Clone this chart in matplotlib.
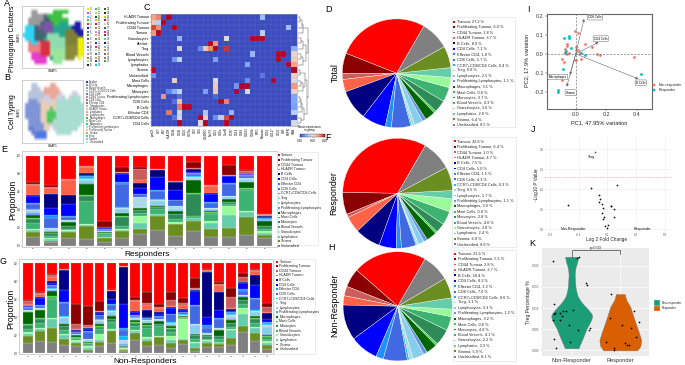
#!/usr/bin/env python3

import numpy as np
import matplotlib
matplotlib.use("Agg")
import matplotlib.pyplot as plt
from matplotlib.patches import Rectangle
from matplotlib.colors import to_rgba

plt.rcParams["font.family"] = ["Liberation Sans", "DejaVu Sans"]

W, H = 685, 365

# ---- Shared categories ----
CELL_TYPES = ["Tumour", "Proliferating Tumour", "CD44 Tumour", "HLADR Tumour", "B Cells", "CD4 Cells",
              "Effector CD4", "CD8 Cells", "CCR7+CD8/CD4 Cells", "Treg", "Lymphocytes",
              "Proliferating Lymphocytes", "Macrophages", "Mast Cells", "Monocytes", "Blood Vessels",
              "Granulocytes", "Lymphatics", "Stroma", "Unclassified"]
CELL_COLORS = ["#ff0000", "#8b0000", "#cd5c5c", "#ff6347", "#000080", "#0000ff", "#1e90ff", "#4169e1",
               "#00bfff", "#add8e6", "#87ceeb", "#6495ed", "#006400", "#32cd32", "#2e8b57", "#3cb371",
               "#98fb98", "#66cdaa", "#6b8e23", "#808080"]

# ---- Pie values (%) ----
total_pct = [27.2, 6.0, 1.8, 3.7, 8.9, 7.1, 1.8, 5.7, 0.4, 0.8, 2.5, 1.1, 3.1, 0.6, 3.7, 4.3, 3.0, 2.9, 6.4, 8.5]
responder_pct = [32.8, 6.4, 1.0, 4.7, 7.5, 5.0, 1.5, 4.3, 0.3, 0.5, 1.7, 1.1, 3.0, 0.6, 2.8, 4.0, 3.8, 2.4, 6.9, 8.8]
non_responder_pct = [21.6, 5.5, 2.8, 2.7, 10.4, 8.3, 2.2, 7.0, 0.6, 1.1, 3.3, 1.2, 3.2, 0.6, 4.8, 4.1, 2.2, 3.3, 5.9, 8.1]

# ---- Stacked bars, each row is one patient in CELL_TYPES order ----
responder_bars = [
    [30, 2, 1, 12, 1, 8, 1, 6, .5, 1, 3, 1.5, 4, 1, 5, 6, 2, 2, 5.5, 10],
    [32, 2, 1, 7, 15, 8, 3, 11, 1, 2, 1, .5, 1, 1, 3, 2, 1, 2, 1, 4.5],
    [26, .5, .5, 17, 10, 13, 1.5, 3, .5, 1, 1, .5, 3.5, .5, 3, 2, 1, 1, 6, 9],
    [11.5, .3, .5, 7, 1.5, 2, 1, 1, .5, 1, 4, 1, 12, 1, 5, 26, 1, 1, 14, 7.5],
    [72.5, 7, .2, .3, 1, 1, .5, 1, .3, .3, 1, .5, 1, .3, 1, 2.5, .5, 1, 4, 4.5],
    [11.5, 5.5, .5, .5, 1, 8.5, 2, 25, .5, 1.5, 4, .5, 3, 1, 9, 3, 1, 1.5, 7.5, 8],
    [12, 3, 11, 4, 5, 6.5, .5, 3, .5, 10, 1, .5, 2, .5, 3, 3, 8, 6, 6, 12.5],
    [14, .5, .5, 1, 7.5, 14, 1, 9, .5, 1, 5, .5, 1, .5, 2, 5, 1, 2, 15, 17],
    [27, .5, .5, .5, 9, 10, 1, 5.5, .5, 3, 2, .5, 3, .5, 5, 3, 2, 1, 12, 11],
    [6.5, 7.5, .3, .3, 3.5, 1, 1, 2.5, 1, 2, 1, .3, 14.5, .8, 24, 2, 1, 3, 11, 16],
    [32, .3, .7, 7, 1.5, 8.5, 1, 5.5, .5, 1, 1.5, .3, 1, 1, 2, 7, 2, 7, 9, 9],
    [9.5, 11, .3, .5, .5, 7.5, 1, 12.5, .5, 1, 2, .5, 2.5, .5, 2, 1.5, 10, 14, 10, 9],
    [16.5, .5, 3, .5, .5, 1, 1, 1.5, .5, 2, 2.5, .5, 6, 1, 1, 24, 1, 6, 20, 12],
    [62, .5, .5, 1.5, .7, 2, .5, .5, .3, .3, .5, .3, 5.5, .3, 3, 2.5, 2, 1.5, 4, 8],
]
non_responder_bars = [
    [39, 1.5, 3, 1.5, 1, 1, 1, 2, .3, .7, .5, .5, 13, .5, 5, 3, 1.5, 2, 8, 11],
    [31.5, .5, 1, 4, 1, 7.5, 1, 2, .3, 1, 1, .5, 8, 1, 5, 5, 1, 3, 10, 14],
    [11, 1, 3, 4, 1.5, 3, 1, 2, .5, 1, 1, .5, 5.5, 2, 1, 20, 1, 10, 15, 12],
    [5.5, 1, .5, .5, 21, 12, 1, 14, .5, 1, 6, .5, 2, .5, 4, 4, 1, 4, 7, 8.5],
    [44, 21, 6, 1, .5, 1, .5, 1.5, .5, .5, .5, .5, 2, .3, 1, 2, 2, 1, 3, 8],
    [46, 20, 3, 1, .5, 2, 1, 8, .5, 1, 1.5, .5, 1, .5, 1, 2, 2, 2, 2, 1.5],
    [41, 10.5, .5, .5, 1, 2, 1, 4, .5, 1, 3, .5, 2, 1, 3, 5, 7, 2, 4, 8],
    [26.5, .5, .5, 1, 8.5, 5, 1, 5, .5, 2, 3, 1, 2.5, .5, 3, 7, 1, 1, 12, 11],
    [2.5, .5, .2, .2, 39, 25, 2, 7, 4, 3, 1, 1, .5, 1, 1, 1, 1, 1, 1, 2.5],
    [37, 4, 1, 11, .5, 3.5, 1, 2, .3, 1, 1, .5, 2, 1, 4, 4, 1, 2, 8, 15],
    [31.5, 12, 2, 6, 7, 1, 1, 1.5, .3, 1, 1.5, .5, 2.5, .5, 2, 10, 2, 2, 6, 8],
    [46, 3, 1, 5.5, 2, 2, 1, 2, .3, 1, 1, .5, 3, .5, 2, 11, 1, 1, 9, 9],
    [30, 9, 6, 1, 1, 6, 1, 7.5, 1, 1, 2, .5, 2, 1, 3, 5, 4, 3, 5, 6],
    [39, 6, 3, 4, 1, 2, 1, 2, .3, .5, 1, .5, 1, .5, 1, .7, 23, .5, 4.5, 11],
    [15.5, 10.5, 1, 1, 1, 15, 1, 19, .5, 1, 9, .3, 1, .3, 4, 3, 1, 5, 3, 3],
    [6.5, .5, 1, 1.5, 50, 9, 3, 5.5, .5, 1, 1, .3, .5, .3, 3, 2, 1, 2, 4, 7.5],
    [20.5, 2, 1, 8, 19.5, 9, 1, 10, .5, 1, 1, .3, 6, .5, 3, 3, 1, 2, 3, 7],
    [28, 10.5, 12, 1, 2, 1, 1, 2, .5, 3, 2, 1, 3, .5, 4, 3, 1, 9, 8, 9],
    [11, 4, 5.5, .5, 1, 7, 1.5, 4.5, .5, 1, .5, .5, 3, 1, 4, 4, 7, 13, 7, 24],
    [6.5, .5, 1, 4.5, 10, 14, 1, 11, 1, 1, 4, .5, 2, 1, 4, 4, 2, 5, 8, 13],
    [42.5, 3.5, 6, .5, 6.5, 3, 1, 2, .3, 2, 8, .5, 2, 1, 2, 2, 2, 2, 4, 5],
]

# ---- Panel A / B embeddings, coarse map of the dominant cluster per region ----
cluster_map = [
    "....................",
    "...GG.....ggggg.....",
    "...GGGGpggggg.......",
    "..GGGGGttgggggg.....",
    "..GGGGtpppggTTT..bb.",
    ".ccctpppppTTTTTTbbb.",
    ".ccctttpppTTTTOOObbb",
    "ccccttttllllTTOOOObb",
    ".ccctttTllllllOOOOyy",
    "..sccsrrrlllllOOOOyy",
    "..ssssrrrlllllPPPPyy",
    "..ssssrrrLLLLLPPPPyy",
    "...mmmrrrLLLLLPPPPyy",
    "...mmmmm.TLLLLPPP.y.",
    "....mmmm..LLL.......",
    "....................",
]
cluster_colors = {".": "#ffffff", "G": "#9a9a9a", "g": "#3fc044", "p": "#7d55a5", "t": "#3f6670", "T": "#25a58f",
                  "b": "#1c1ca8", "c": "#30d4f0", "O": "#7f8038", "l": "#8fdcb0", "y": "#f2f200", "s": "#ee7f85",
                  "r": "#d83040", "P": "#8a8a3a", "L": "#9ae59e", "m": "#e63ccf"}
celltype_map = [
    "....................",
    "...aa....ss.........",
    "...aaa.sssss........",
    "..aaaaasssssl...ll..",
    "..aaaaallssllT.lTTT.",
    "..hhhaollloTTTTTTTT.",
    ".hhhhhoooooTTTTTTTTT",
    ".hhhhhooogoTTTTTTTTT",
    ".hhhhhoogggTTTTTTTTT",
    ".hhhhhoogggTTTTTTTTT",
    "..hhhhoogglTTTTTTTTT",
    "..hhhhhoolTTTTTTTTT.",
    "..ddhhhoo.lTTTTTTT..",
    "...ddRRR...TTTTT....",
    "....RRRR............",
    "....................",
]
celltype_colors = {".": "#ffffff", "a": "#b8c4dc", "s": "#e9a898", "l": "#d4cde2", "T": "#a9ddd2", "h": "#8095d8",
                   "o": "#e9cdb6", "g": "#52c862", "d": "#6a7fd0", "R": "#4f78e2"}
typing_labels = ["Artifact", "B Cells", "Blood Vessels", "CCR7+CD8/CD4 Cells", "CD4 Cells", "CD44 Tumour", "CD8 Cells",
                 "Effector CD4", "Granulocytes", "HLADR Tumour", "Lymphatics", "Lymphocytes", "Macrophages", "Mast Cells",
                 "Monocytes", "Proliferating Lymphocytes", "Proliferating Tumour", "Stroma", "Treg", "Tumour", "Unclassified"]
typing_colors = ["#2040c0", "#8095d8", "#a0a0b0", "#b8c4dc", "#6a7fd0", "#f08080", "#7f80d0", "#c06080", "#e0a0c0", "#e8c0a0",
                 "#e8a0a0", "#c8a0e0", "#20c060", "#80e080", "#30d090", "#a9ddd2", "#e8c8a8", "#f0a030", "#30d0d0", "#80c8c0", "#b0e8e8"]
phenograph_colors = ["#f2f200", "#e63ccf", "#30d4f0", "#3fc044", "#d83040", "#1c1ca8", "#25a58f", "#7f8038", "#3f6670", "#9a9a9a",
                     "#7d55a5", "#8fdcb0", "#ee7f85", "#8a8a3a", "#9ae59e", "#202020", "#40c040", "#c0d080", "#206020", "#f0b040",
                     "#c02020", "#a08060", "#f080f0", "#f0a0a0", "#80a040", "#303090", "#e02090", "#e0e0a0", "#408080", "#d0a040",
                     "#205080", "#20c0e0", "#406020", "#203020", "#e0c000", "#a02060", "#c0e0e0", "#505050", "#e03060", "#a03030",
                     "#60d0a0", "#202060", "#a0a0e0", "#c08060", "#806040", "#907090", "#40a040"]

# ---- Panel C heatmap, value per (row, column), everything else is background ----
heat_rows = ["HLADR Tumour", "Proliferating Tumour", "CD44 Tumour", "Tumour", "Granulocytes", "Artifact", "Treg", "Blood Vessels",
             "Lymphocytes", "Lymphatics", "Stroma", "Unclassified", "Mast Cells", "Macrophages", "Monocytes",
             "Proliferating Lymphocytes", "CD8 Cells", "B Cells", "Effector CD4", "CCR7+CD8/CD4 Cells", "CD4 Cells"]
heat_cols = ["panCK", "CK7", "Ki67", "HLA-DR", "CD44", "CD45", "CD20", "CD79a", "CD3", "CD4", "CD45RO", "FoxP3", "CD25", "CD8a", "GzmB",
             "CCR7", "CD14", "CD68", "CD163", "CD66b", "MPO", "Elastase", "CD56", "CD117", "CD31", "vWF", "PDPN", "SMA"]
heat_entries = {
    0: {0: .72, 1: .8, 3: 1, 21: .3},
    1: {0: .62, 1: .38, 2: 1},
    2: {0: .92, 1: .78, 4: 1, 26: .3},
    3: {0: .75, 1: 1, 21: .38},
    4: {5: .27, 14: .53, 19: 1, 20: 1, 21: 1},
    5: {11: 1, 12: .75},
    6: {5: .53, 9: .14, 10: .62, 11: .78, 12: 1, 14: .95, 27: .25},
    7: {19: .28, 24: 1, 25: 1, 27: .55},
    8: {4: .17, 5: .4, 12: .2, 24: 1, 27: .6},
    9: {18: .22, 26: 1, 27: .72},
    10: {0: 1, 27: 1},
    11: {0: .16, 21: .1, 27: .58},
    12: {4: .58, 12: .48, 18: .15, 23: 1, 27: .47},
    13: {12: .6, 16: .17, 17: 1, 18: 1, 27: .75},
    14: {3: .13, 4: .25, 5: .42, 10: .2, 12: .6, 16: 1, 18: .48, 27: .56},
    15: {2: .76, 5: .08, 12: .07, 27: .22},
    16: {4: .08, 5: .63, 13: 1, 14: .8, 27: .22},
    17: {5: .82, 6: 1, 7: 1, 27: .2},
    18: {3: .83, 5: .45, 10: .35, 15: .28, 27: .38},
    19: {4: .1, 5: .45, 9: 1, 10: .58, 12: .16, 13: .38, 14: .92, 15: 1},
    20: {5: 1, 9: .5, 10: 1, 14: 1, 27: .48},
}
# merges as (node a, node b, depth), nodes past the rows are earlier merges
dendro_merges = [(0, 1, .2), (2, 21, .35), (3, 22, .5), (4, 5, .3), (24, 6, .45), (7, 8, .3), (26, 9, .5), (10, 11, .25),
                 (12, 13, .3), (29, 14, .45), (28, 30, .65), (15, 16, .2), (32, 17, .3), (33, 18, .42), (19, 20, .3),
                 (34, 35, .55), (25, 27, .72), (31, 36, .8), (23, 37, .88), (38, 39, 1.0)]

# ---- Panel I PCA ----
pca_nr_x = [-.004, .017, .061, .109, -.059, -.059, -.07, 0, 0, .013, -.042, -.059, -.092, -.074, -.004, .035, .028, .142, .16, .383, -.087, -.07, .002]
pca_nr_y = [.122, .109, .055, .039, .051, .044, .026, .035, .021, .021, .004, 0, -.028, -.041, -.032, -.026, .004, .002, -.005, -.014, -.137, .009, -.033]
pca_r_x = [-.074, -.042, -.042, -.033, -.063, -.068, .037, .059, -.081, -.118, -.114, .426]
pca_r_y = [.085, .097, .085, .032, .018, .007, .007, -.004, -.081, -.19, -.199, -.107]
loading_names = ["CD8 Cells", "CD4 Cells", "B Cells", "Macrophages", "Stroma"]
loading_x = [.055, .149, .411, -.037, -.059]
loading_y = [.185, .062, -.132, -.111, -.173]

# ---- Panel J volcano ----
fold_change = [-.136, -.057, -.03, -.026, -.029, -.02, -.015, -.019, -.01, -.014, .014, .013, .022, .023, .035, .003, -.007, 0]
neg_log_p = [.617, 1.042, .867, .758, .683, .625, .542, .4, .308, .258, .592, .575, .508, .308, 1.117, .117, .092, .025]
treg_fold_change = -.043
treg_neg_log_p = 1.94

# ---- Panel K violins ----
nr_violin_y = [.0221, .0209, .0194, .018, .0166, .0146, .0127, .0111, .0098, .0083, .0069, .0052, .0032, .0017, .0005]
nr_violin_w = [.137, .116, .075, .062, .068, .082, .123, .219, .329, .432, .39, .308, .24, .185, .137]
r_violin_y = [.0133, .0119, .0103, .0083, .0064, .0044, .0024, .0009, 0]
r_violin_w = [.089, .123, .205, .26, .315, .377, .432, .411, .342]
jitter_x = [.61, 1.11, 1.16, 1.29, 1.31, .64, .64, .66, .77, .83, .88, 1.03, .81, .62, .77, .95, 1.38, 1.36, 1.14, .63, .97, .68,
            1.80, 2.28, 1.78, 2.38, 2.03, 2.22, 2.32, 1.71, 2.09, 2.17, 2.14, 1.88, 1.88]
jitter_y = [.0212, .0219, .0221, .0158, .0154, .0109, .0087, .0088, .0089, .0094, .0094, .0095, .008, .0072, .0072, .006, .0054, .0049, .0047, .0027, .0019, .0006,
            .0132, .0094, .0076, .0066, .0061, .0052, .0031, .002, .0017, .0013, .0013, .0005, .0002]


def px_axes(fig, x0, y0, x1, y1):
    """Axes from pixel corners, y counted from the top of the image."""
    return fig.add_axes([x0 / W, 1 - y1 / H, (x1 - x0) / W, (y1 - y0) / H])


def draw_embedding(fig, rect, grid, colors):
    ax = px_axes(fig, *rect)
    rgba = np.array([[to_rgba(colors[ch]) for ch in row] for row in grid])
    ax.imshow(rgba, interpolation="bilinear", aspect="auto")
    ax.set_xticks([])
    ax.set_yticks([])
    for spine in ax.spines.values():
        spine.set_color("#c8c8c8")
        spine.set_linewidth(0.6)
    return ax


def draw_stack(fig, rect, rows, xlim, ylim, tick_label):
    ax = px_axes(fig, *rect)
    data = np.array(rows, dtype=float)
    data = data / data.sum(axis=1, keepdims=True)
    x = np.arange(len(rows))
    bottom = np.zeros(len(rows))
    for j in range(len(CELL_TYPES) - 1, -1, -1):
        ax.bar(x, data[:, j], bottom=bottom, width=0.82, color=CELL_COLORS[j], edgecolor="white", linewidth=0.12)
        bottom += data[:, j]
    ax.set_xlim(*xlim)
    ax.set_ylim(*ylim)
    ax.set_xticks(x, [tick_label] * len(rows), fontsize=1.6)
    ax.set_yticks([0, .2, .4, .6, .8, 1], ["0.0", "0.2", "0.4", "0.6", "0.8", "1.0"], fontsize=1.8)
    ax.tick_params(length=0.8, width=0.25, pad=0.4, color="#666666")
    for spine in ax.spines.values():
        spine.set_color("#c8c8c8")
        spine.set_linewidth(0.6)
    return ax


def draw_pie(fig, cx, cy, r, values):
    ax = px_axes(fig, cx - r, cy - r, cx + r, cy + r)
    ax.pie(values, colors=CELL_COLORS, startangle=60, counterclock=True, radius=1,
           wedgeprops={"edgecolor": "white", "linewidth": 0.25})
    ax.set_xlim(-1, 1)
    ax.set_ylim(-1, 1)
    return ax


def draw_legend(ov, box, patch_x, text_x, first_y, step, labels, colors, size, fs, edge="#dddddd"):
    x0, y0, x1, y1 = box
    ov.add_patch(Rectangle((x0, y0), x1 - x0, y1 - y0, fc="white", ec=edge, lw=0.4))
    for i, (label, color) in enumerate(zip(labels, colors)):
        y = first_y + i * step
        ov.add_patch(Rectangle((patch_x - size / 2, y - size / 2), size, size, fc=color, ec="none"))
        ov.text(text_x, y, label, fontsize=fs, va="center", ha="left", color="#222222")


def draw_dendrogram(fig, rect, n_rows, merges):
    ax = px_axes(fig, *rect)
    ax.set_xlim(0, 1)
    ax.set_ylim(n_rows - .5, -.5)
    ax.axis("off")
    pos = {i: (float(i), 0.0) for i in range(n_rows)}
    for k, (a, b, depth) in enumerate(merges):
        ya, da = pos[a]
        yb, db = pos[b]
        ax.plot([da, depth, depth, db], [ya, ya, yb, yb], color="#555555", lw=0.35)
        pos[n_rows + k] = ((ya + yb) / 2, depth)


def smooth_violin(ys, ws):
    """Round off the read widths so the outline does not look polygonal."""
    ys = np.array(ys)[::-1]
    ws = np.array(ws)[::-1]
    fine_y = np.linspace(ys[0], ys[-1], 240)
    fine_w = np.interp(fine_y, ys, ws)
    kernel = np.ones(13) / 13
    padded = np.concatenate([np.full(6, fine_w[0]), fine_w, np.full(6, fine_w[-1])])
    return fine_y, np.convolve(padded, kernel, mode="valid")


def main():
    fig = plt.figure(figsize=(W / 100, H / 100), dpi=100, facecolor="white")

    # A and B
    draw_embedding(fig, (22, 6, 83, 68), cluster_map, cluster_colors)
    draw_embedding(fig, (22, 80, 83, 143), celltype_map, celltype_colors)

    # C
    heat = np.zeros((len(heat_rows), len(heat_cols)))
    for row, entries in heat_entries.items():
        for col, value in entries.items():
            heat[row, col] = value
    ax = px_axes(fig, 150.7, 14.3, 296.7, 125.7)
    mesh = ax.pcolormesh(heat, cmap="coolwarm", vmin=0, vmax=1)
    for x in range(1, len(heat_cols)):
        ax.axvline(x, color="#8a94c8", lw=0.12)
    for y in range(1, len(heat_rows)):
        ax.axhline(y, color="#8a94c8", lw=0.12)
    ax.set_ylim(len(heat_rows), 0)
    ax.set_yticks(np.arange(len(heat_rows)) + .5, heat_rows, fontsize=2.6)
    ax.set_xticks(np.arange(len(heat_cols)) + .5, heat_cols, fontsize=2, rotation=90)
    ax.tick_params(length=0.8, width=0.25, pad=0.6)
    for spine in ax.spines.values():
        spine.set_color("#999999")
        spine.set_linewidth(0.4)
    draw_dendrogram(fig, (297.5, 14.3, 309, 125.7), len(heat_rows), dendro_merges)
    cax = px_axes(fig, 300, 134, 325, 137)
    cbar = fig.colorbar(mesh, cax=cax, orientation="horizontal")
    cbar.set_ticks([0, .5, 1], labels=["0.00", "0.50", "1.00"], fontsize=2.2)
    cbar.ax.tick_params(length=0.8, width=0.25, pad=0.5)
    cbar.outline.set_linewidth(0.2)

    # E and G
    draw_stack(fig, (22, 151, 277, 246.7), responder_bars, (-.62, 13.7), (-.011, 1.052), "R")
    draw_stack(fig, (19.3, 259.3, 273.3, 354), non_responder_bars, (-.73, 20.56), (-.007, 1.044), "N")

    # D, F, H
    draw_pie(fig, 396.7, 73.3, 54.4, total_pct)
    draw_pie(fig, 397.7, 193.3, 55, responder_pct)
    draw_pie(fig, 397.7, 306.3, 54.6, non_responder_pct)

    # I
    ax = px_axes(fig, 546.7, 14, 651.7, 109)
    ax.axhline(0, color="#777777", lw=0.5, ls=(0, (3, 2)))
    ax.axvline(0, color="#777777", lw=0.5, ls=(0, (3, 2)))
    ax.scatter(pca_nr_x, pca_nr_y, s=4, color="#F8766D", lw=0)
    ax.scatter(pca_r_x, pca_r_y, s=4, color="#00BFC4", lw=0)
    for x, y in zip(loading_x, loading_y):
        ax.annotate("", xy=(x, y), xytext=(0, 0),
                    arrowprops={"arrowstyle": "-|>,head_length=0.5,head_width=0.25", "color": "#666666", "lw": 0.4,
                                "shrinkA": 0, "shrinkB": 0, "mutation_scale": 3})
    label_offsets = [(.072, .009), (.015, .019), (.015, -.02), (-.081, -.011), (.026, -.031)]
    for name, x, y, (dx, dy) in zip(loading_names, loading_x, loading_y, label_offsets):
        ax.text(x + dx, y + dy, name, fontsize=2.2, ha="center", va="center",
                bbox={"boxstyle": "round,pad=0.25", "fc": "white", "ec": "#666666", "lw": 0.35})
    ax.set_xlim(-.19, .498)
    ax.set_ylim(-.291, .211)
    ax.set_xticks([0, .2, .4], ["0.0", "0.2", "0.4"], fontsize=3.9, color="#333333")
    ax.set_yticks([-.2, -.1, 0, .1, .2], ["-0.2", "-0.1", "0.0", "0.1", "0.2"], fontsize=3.9, color="#333333")
    ax.tick_params(length=1.2, width=0.35, pad=1, color="#444444")
    for spine in ax.spines.values():
        spine.set_color("#666666")
        spine.set_linewidth(0.8)

    # J
    ax = px_axes(fig, 544.3, 136.7, 671, 232.7)
    ax.grid(True, color="#ececec", lw=0.4)
    ax.set_axisbelow(True)
    ax.axhline(1.3, color="#f09090", lw=0.4, ls=(0, (3, 2)))
    ax.scatter(fold_change, neg_log_p, s=1.6, color="#111111", lw=0)
    ax.scatter([treg_fold_change], [treg_neg_log_p], s=1.6, color="#e02020", lw=0)
    ax.text(treg_fold_change - .012, treg_neg_log_p - .13, "Treg", fontsize=2.6, ha="center", va="center")
    ax.text(-.119, 0, "Non-Responder", fontsize=2.6, ha="center", va="center")
    ax.text(.122, 0, "Responder", fontsize=2.6, ha="center", va="center")
    ax.set_xlim(-.22, .222)
    ax.set_ylim(-.083, 2.317)
    ax.set_xticks([-.2, -.1, 0, .1, .2], ["-0.2", "-0.1", "0.0", "0.1", "0.2"], fontsize=2.2, color="#555555")
    ax.set_yticks([0, .5, 1, 1.5, 2], ["0.0", "0.5", "1.0", "1.5", "2.0"], fontsize=2.2, color="#555555")
    ax.tick_params(length=0, pad=0.4)
    for spine in ax.spines.values():
        spine.set_visible(False)

    # K
    ax = px_axes(fig, 541.7, 247.7, 649.3, 355.7)
    ax.set_facecolor("#ebebeb")
    ax.grid(True, color="white", lw=0.5)
    ax.set_axisbelow(True)
    for center, ys, ws, color in [(1, nr_violin_y, nr_violin_w, "#1b9e77"), (2, r_violin_y, r_violin_w, "#d95f02")]:
        fine_y, fine_w = smooth_violin(ys, ws)
        ax.fill_betweenx(fine_y, center - fine_w, center + fine_w, color=color, ec="#777777", lw=0.3)
    ax.scatter(jitter_x, jitter_y, s=1.5, color="black", lw=0, zorder=3)
    ax.plot([1, 1, 2, 2], [.0221, .0236, .0236, .0228], color="#444444", lw=0.5)
    ax.text(1.5, .0241, "p=0.03", fontsize=2.8, ha="center", va="center", color="#222222")
    ax.set_xlim(.384, 2.596)
    ax.set_ylim(-.00126, .02425)
    ax.set_xticks([1, 2], ["Non-Responder", "Responder"], fontsize=4.1, color="#333333")
    ax.set_yticks([0, .005, .01, .015, .02], ["0.000", "0.005", "0.010", "0.015", "0.020"], fontsize=2.2, color="#555555")
    ax.tick_params(length=0.8, width=0.25, pad=0.8, color="#666666")
    for spine in ax.spines.values():
        spine.set_visible(False)

    # pixel overlay for panel letters, titles and hand placed legends
    ov = fig.add_axes([0, 0, 1, 1], zorder=5)
    ov.set_xlim(0, W)
    ov.set_ylim(H, 0)
    ov.axis("off")
    ov.patch.set_alpha(0)

    letters = {"A": (7, 4), "B": (7, 77), "C": (147, 7), "D": (329, 10), "E": (4, 149), "F": (328, 137),
               "G": (3, 261), "H": (332, 248), "I": (528, 10), "J": (533, 130), "K": (532, 244)}
    for letter, (x, y) in letters.items():
        ov.text(x, y, letter, fontsize=6.5, ha="center", va="center")

    ov.text(12.7, 39, "Phenograph Clusters", fontsize=5, rotation=90, ha="center", va="center")
    ov.text(12.7, 112, "Cell Typing", fontsize=5, rotation=90, ha="center", va="center")
    ov.text(13, 200, "Proportion", fontsize=6.2, rotation=90, ha="center", va="center")
    ov.text(10.5, 309, "Proportion", fontsize=6.2, rotation=90, ha="center", va="center")
    ov.text(147, 254, "Responders", fontsize=6, ha="center", va="center")
    ov.text(145, 361.5, "Non-Responders", fontsize=6, ha="center", va="center")
    ov.text(335, 73, "Total", fontsize=6.4, rotation=90, ha="center", va="center")
    ov.text(334, 193, "Responder", fontsize=6.4, rotation=90, ha="center", va="center")
    ov.text(335, 305, "Non-Responder", fontsize=6.4, rotation=90, ha="center", va="center")

    for y_label, y_left in [(71, 37), (146, 112)]:
        ov.text(53, y_label, "UMAP1", fontsize=2, ha="center", va="center")
        ov.text(19, y_left, "UMAP2", fontsize=2, rotation=90, ha="center", va="center")

    # A legend, three columns of numbered clusters
    for k, color in enumerate(phenograph_colors):
        col, row = divmod(k, 16)
        x = 87.7 + col * 8.8
        y = 9.3 + row * 3.72
        ov.add_patch(Rectangle((x - 1, y - 1), 2, 2, fc=color, ec="none"))
        ov.text(x + 1.8, y, str(k), fontsize=1.9, va="center", ha="left", color="#333333")

    # B legend
    for k, (name, color) in enumerate(zip(typing_labels, typing_colors)):
        y = 81.7 + k * 3.0
        ov.add_patch(Rectangle((86.3, y - 1), 2, 2, fc=color, ec="none"))
        ov.text(89.5, y, name, fontsize=1.9, va="center", ha="left", color="#333333")

    ov.text(309, 128.5, "Mean expression\nin group", fontsize=2.1, ha="center", va="center", linespacing=0.95)

    # E, G legends
    draw_legend(ov, (277.5, 152, 318, 245), 279, 281, 155, 4.8, CELL_TYPES, CELL_COLORS, 1.8, 2.5)
    draw_legend(ov, (274.5, 259, 315, 354), 277, 279.5, 261.7, 4.6, CELL_TYPES, CELL_COLORS, 1.8, 2.5)

    # D, F, H legends
    for box, px, tx, y0, pct in [((452, 17, 515, 127), 454.2, 456.6, 21.7, total_pct),
                                  ((452.5, 137, 516, 247), 454.8, 457.2, 141.3, responder_pct),
                                  ((453, 250, 516, 361), 455.2, 458, 253.7, non_responder_pct)]:
        labels = [f"{name}, {value:.1f} %" for name, value in zip(CELL_TYPES, pct)]
        draw_legend(ov, box, px, tx, y0, 5.42, labels, CELL_COLORS, 1.8, 2.75)

    # I labels and legend
    ov.text(599, 123, "PC1, 47.95% variation", fontsize=4.1, ha="center", va="center", color="#222222")
    ov.text(527, 60, "PC2, 17.9% variation", fontsize=4.1, rotation=90, ha="center", va="center", color="#222222")
    ov.scatter([654, 654], [85, 90], s=4, color=["#F8766D", "#00BFC4"], lw=0)
    ov.text(659, 85, "Non-responder", fontsize=2.5, va="center", color="#222222")
    ov.text(659, 90, "Responder", fontsize=2.5, va="center", color="#222222")
    ov.set_xlim(0, W)
    ov.set_ylim(H, 0)

    # J labels
    ov.text(537, 185, "-Log10 P Value", fontsize=3.4, rotation=90, ha="center", va="center", color="#222222")
    ov.text(607, 240, "Log 2 Fold Change", fontsize=3.4, ha="center", va="center", color="#222222")

    # K labels and legend
    ov.text(529, 302, "Treg Percentage %", fontsize=3.6, rotation=90, ha="center", va="center", color="#222222")
    for y, color, label in [(303, "#1b9e77", "Non-responder"), (308.5, "#d95f02", "Responder")]:
        ov.add_patch(Rectangle((654.5, y - 2.6), 5.2, 5.2, fc=color, ec="white", lw=0.2))
        ov.text(661.5, y, label, fontsize=2.2, va="center", color="#222222")

    fig.savefig("out.png", dpi=100)
    plt.close(fig)


if __name__ == "__main__":
    main()
